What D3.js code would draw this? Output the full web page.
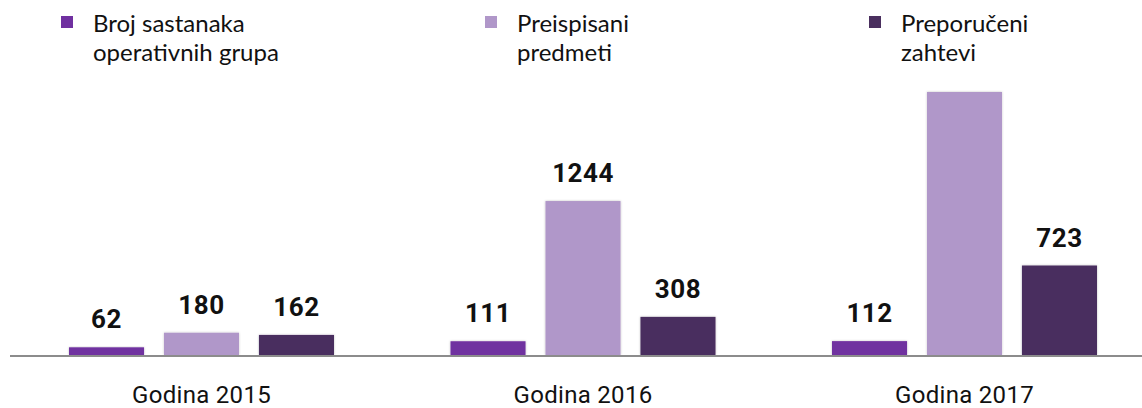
<!DOCTYPE html>
<html>
<head>
<meta charset="utf-8">
<script src="https://cdn.jsdelivr.net/npm/d3@7"></script>
<style>
  body { margin: 0; background: #fff; }
  svg { display: block; }
</style>
</head>
<body>
<div id="chart"></div>
<script>
// chart data
const years = ["Godina 2015", "Godina 2016", "Godina 2017"];
const seriesNames = [["Broj sastanaka", "operativnih grupa"], ["Preispisani", "predmeti"], ["Preporučeni", "zahtevi"]];
const sastanci = [62, 111, 112];
const preispisani = [180, 1244, 2125];
const preporuceni = [162, 308, 723];

const width = 1142;
const height = 408;
const baseY = 355;
const colors = ["#7030a0", "#b097c9", "#4a2f5f"];
const legendX = [61, 485, 869];

const series = [sastanci, preispisani, preporuceni];

const svg = d3.select("#chart").append("svg")
  .attr("width", width)
  .attr("height", height);

// subtle shadow round the bars
const defs = svg.append("defs");
const filt = defs.append("filter").attr("id", "shadow")
  .attr("x", "-10%").attr("y", "-10%").attr("width", "120%").attr("height", "130%");
filt.append("feDropShadow").attr("dx", 0).attr("dy", 0).attr("stdDeviation", 1.2)
  .attr("flood-color", "#000").attr("flood-opacity", 0.25);

// scales
const x0 = d3.scaleBand().domain(years).range([10.75, 1155.25]).padding(0);
const x1 = d3.scaleBand().domain([0, 1, 2]).range([-132.5, 132.5]).paddingInner(0.21).paddingOuter(0);
const y = d3.scaleLinear().domain([0, 2125]).range([baseY, 92]);

// bars
series.forEach(function(values, s) {
  const g = svg.append("g");
  g.selectAll("rect")
    .data(values)
    .enter()
    .append("rect")
    .attr("x", function(d, i) { return x0(years[i]) + x0.bandwidth() / 2 + x1(s); })
    .attr("y", function(d) { return y(d); })
    .attr("width", x1.bandwidth())
    .attr("height", function(d) { return baseY - y(d); })
    .attr("fill", colors[s])
    .attr("filter", "url(#shadow)");

  // value labels (the tallest one runs off the top in the reference)
  g.selectAll("text")
    .data(values.map(function(d, i) { return { v: d, i: i }; }).filter(function(d) { return y(d.v) > 120; }))
    .enter()
    .append("text")
    .attr("x", function(d) { return x0(years[d.i]) + x0.bandwidth() / 2 + x1(s) + x1.bandwidth() / 2; })
    .attr("y", function(d) { return y(d.v) - 19; })
    .attr("text-anchor", "middle")
    .attr("font-family", "Roboto, sans-serif")
    .attr("font-weight", "bold")
    .attr("font-size", 26)
    .attr("letter-spacing", 0.5)
    .attr("fill", "#111")
    .text(function(d) { return d.v; });
});

// baseline
svg.append("line")
  .attr("x1", 10).attr("x2", width)
  .attr("y1", baseY + 1).attr("y2", baseY + 1)
  .attr("stroke", "#8c8c8c")
  .attr("stroke-width", 2);

// category labels
svg.append("g").selectAll("text")
  .data(years)
  .enter()
  .append("text")
  .attr("x", function(d) { return x0(d) + x0.bandwidth() / 2; })
  .attr("y", 403)
  .attr("text-anchor", "middle")
  .attr("font-family", "Roboto, sans-serif")
  .attr("font-size", 24)
  .attr("letter-spacing", 0.3)
  .attr("fill", "#111")
  .text(function(d) { return d; });

// legend
const legend = svg.append("g").selectAll("g")
  .data(seriesNames)
  .enter()
  .append("g")
  .attr("transform", function(d, i) { return "translate(" + legendX[i] + ",0)"; });

legend.append("rect")
  .attr("x", 0).attr("y", 16)
  .attr("width", 12).attr("height", 12)
  .attr("fill", function(d, i) { return colors[i]; });

legend.append("text")
  .attr("font-family", "Lato, sans-serif")
  .attr("font-size", 24)
  .attr("fill", "#111")
  .selectAll("tspan")
  .data(function(d) { return d; })
  .enter()
  .append("tspan")
  .attr("x", 32)
  .attr("y", function(d, i) { return 32 + i * 29; })
  .text(function(d) { return d; });
</script>
</body>
</html>
